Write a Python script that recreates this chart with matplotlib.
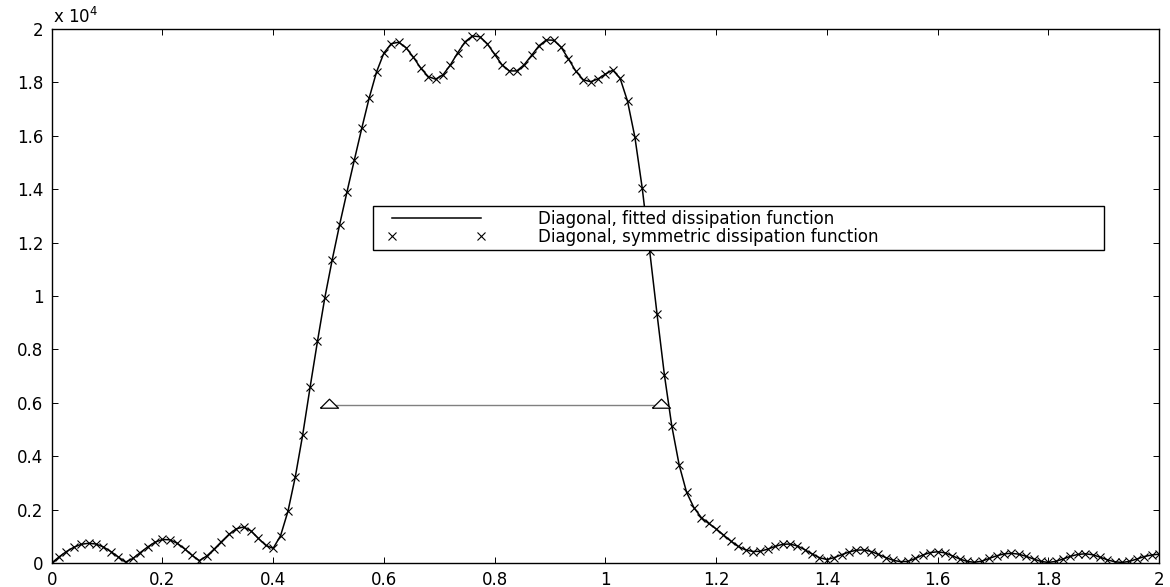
import numpy as np
import matplotlib
matplotlib.use("Agg")
import matplotlib.pyplot as plt
from matplotlib.ticker import FuncFormatter, MultipleLocator
from matplotlib.legend_handler import HandlerLine2D

# sample positions of the diagonal (151 points over 0..2)
x_pts = np.linspace(0, 2, 151)

# diagonal of the dissipation function
diag_vals = [
    0, 230, 430, 590, 700, 740, 710, 600, 430, 230, 30,
    170, 390, 600, 780, 880, 870, 740, 530, 290, 90,
    260, 520, 800, 1070, 1280, 1350, 1200, 920, 660, 550,
    1020, 1935, 3230, 4800, 6580, 8300, 9940, 11360, 12670, 13900,
    15100, 16280, 17410, 18390, 19100, 19450, 19505, 19300, 18940, 18530,
    18220, 18120, 18280, 18650, 19110, 19520, 19740, 19710, 19450, 19050,
    18660, 18430, 18430, 18660, 19010, 19370, 19590, 19580, 19320, 18880,
    18420, 18100, 18025, 18130, 18310, 18460, 18150, 17300, 15950, 14030,
    11700, 9325, 7040, 5130, 3670, 2650, 2070, 1700, 1480, 1280,
    1050, 820, 620, 490, 430, 440, 520, 620, 700, 710,
    640, 500, 340, 200, 130, 200, 310, 410, 480, 490,
    430, 320, 200, 100, 50, 60, 170, 300, 390, 420,
    380, 270, 150, 60, 25, 70, 170, 270, 340, 365,
    330, 250, 150, 60, 20, 60, 150, 250, 320, 345,
    310, 220, 120, 45, 20, 60, 150, 240, 300, 330,
]

# width marker (two triangles joined by a line)
width_x = [0.5, 1.1]
width_y = [5900, 5900]

labels = ["Diagonal, fitted dissipation function",
          "Diagonal, symmetric dissipation function"]

plt.rcParams["font.family"] = ["DejaVu Sans"]
plt.rcParams["font.size"] = 12

fig = plt.figure(figsize=(11.7, 5.87), dpi=100)
ax = fig.add_axes([0.0442, 0.0409, 0.9464, 0.9097])

line_fit, = ax.plot(x_pts, diag_vals, "-", color="black", lw=1.1)
line_sym, = ax.plot(x_pts, diag_vals, "x", color="black", ms=5.8, mew=0.8,
                    linestyle="none")

# flat triangle, wider than tall
tri = [(-1, -0.3), (1, -0.3), (0, 0.7), (-1, -0.3)]
ax.plot(width_x, width_y, "-", color="0.5", lw=1.0)
ax.plot(width_x, width_y, linestyle="none", marker=tri, ms=13,
        mfc="white", mec="black", mew=0.9)

ax.set_xlim(0, 2)
ax.set_ylim(0, 20000)
ax.xaxis.set_major_locator(MultipleLocator(0.2))
ax.yaxis.set_major_locator(MultipleLocator(2000))
ax.xaxis.set_major_formatter(FuncFormatter(lambda v, p: "%g" % round(v, 2)))
ax.yaxis.set_major_formatter(FuncFormatter(lambda v, p: "%g" % round(v / 1e4, 2)))
ax.tick_params(direction="in", top=True, right=True, length=4.3, width=0.7,
               labelsize=12, pad=6)
for s in ax.spines.values():
    s.set_linewidth(1.0)

ax.text(0.001, 1.012, r"x 10$^{4}$", transform=ax.transAxes, fontsize=12,
        ha="left", va="baseline")

leg = ax.legend([line_fit, line_sym], labels, loc="upper left",
                bbox_to_anchor=(0.29, 0.5786, 0.6606, 0.0899), mode="expand",
                borderaxespad=0, fontsize=12, handlelength=6.23,
                handletextpad=3.41, borderpad=0.25, labelspacing=0.0,
                fancybox=False, framealpha=1, edgecolor="black",
                handler_map={line_fit: HandlerLine2D(marker_pad=0, xpad=0.9),
                             line_sym: HandlerLine2D(marker_pad=0, numpoints=2,
                                                     xpad=0.9)})
leg.get_frame().set_linewidth(1.0)

fig.savefig("out.png", dpi=100)
